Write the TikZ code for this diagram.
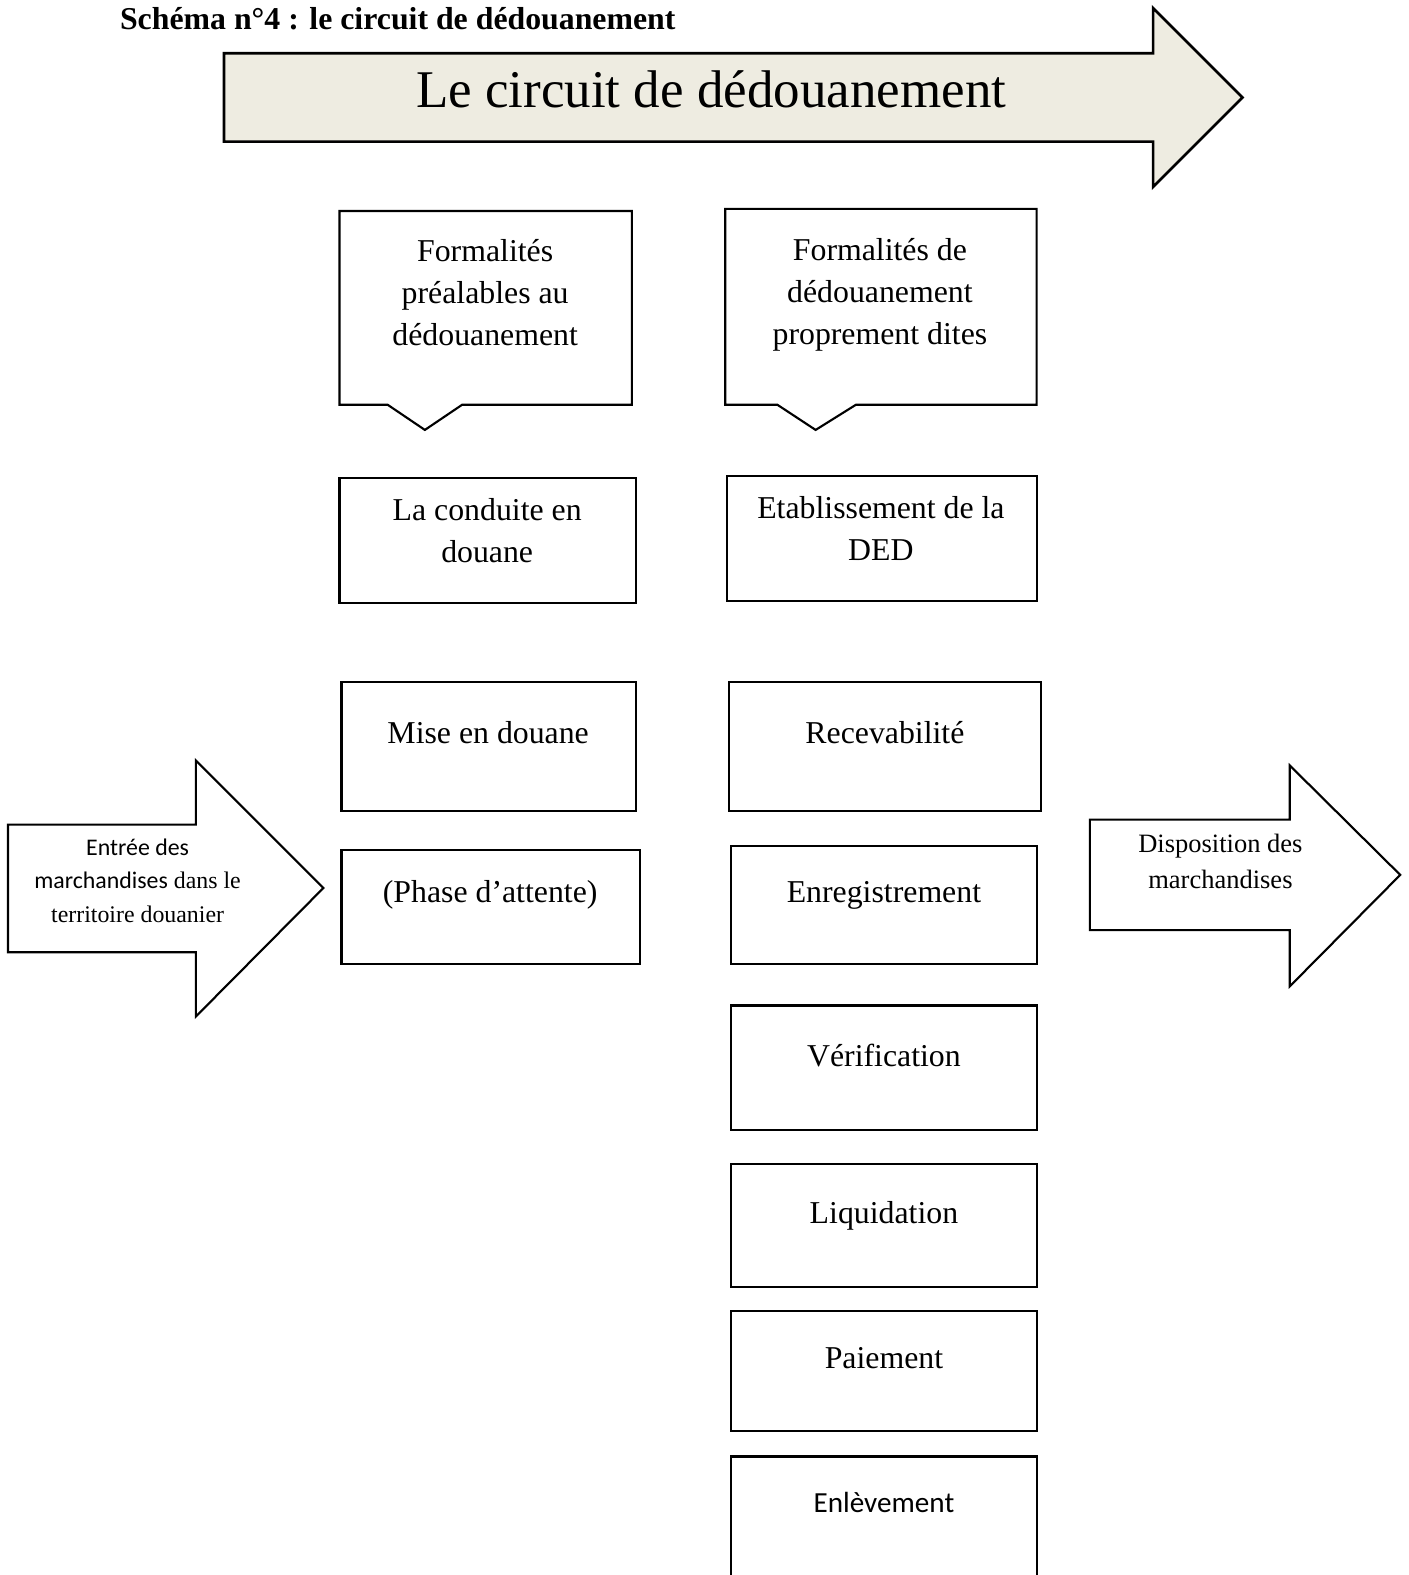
\documentclass[tikz,border=0pt]{standalone}
\usepackage{fontspec}
\setmainfont{Liberation Serif}
\newfontfamily\calibri{Carlito}
\usetikzlibrary{positioning,fit}
\definecolor{fondgris}{HTML}{EEECE1}

\tikzset{
  etape/.style={draw, line width=0.8pt, inner sep=0pt},
  etiq/.style={anchor=north, align=center, inner sep=0pt, font=\fontsize{12}{15.9}\selectfont},
  fleche/.style={draw, line width=0.8pt, line join=miter}
}

\begin{document}
\begin{tikzpicture}[x=0.379pt, y=-0.379pt]
	\clip (0,0) rectangle (1402,1568);
	\fill[white] (0,0) rectangle (1402,1568);
	% titre
	\node[anchor=base west, inner sep=0pt, font=\bfseries\fontsize{12}{14}\selectfont] (titre) at (119,29) {Schéma n°4 : le circuit de dédouanement};
	% grande fleche
	\draw[fleche, fill=fondgris, line width=1pt] (223,53) -- (1148,53) -- (1148,8) -- (1237,97) -- (1148,186) -- (1148,141) -- (223,141) -- cycle;
	\node[anchor=base, inner sep=0pt, font=\fontsize{20}{24}\selectfont] (circuit) at (708,107) {Le circuit de dédouanement};
	% colonne de gauche
	\draw[fleche] (338,210) -- (629,210) -- (629,403) -- (460,403) -- (423,428) -- (386,403) -- (338,403) -- cycle;
	\node[etiq] (prealT) at (483,238) {Formalités\\préalables au\\dédouanement};
	\node[etape, fit={(338,476) (633,600)}] (conduite) {};
	\node[etiq] (conduiteT) at (485,496) {La conduite en\\douane};
	\node[etape, fit={(340,679) (633,807)}] (mise) {};
	\node[etiq] (miseT) at (486,718) {Mise en douane};
	\node[etape, fit={(340,846) (637,960)}] (attente) {};
	\node[etiq] (attenteT) at (488,876) {(Phase d’attente)};
	% colonne de droite
	\draw[fleche] (722,208) -- (1032,208) -- (1032,403) -- (852,403) -- (812,428) -- (774,403) -- (722,403) -- cycle;
	\node[etiq] (propresT) at (876,237) {Formalités de\\dédouanement\\proprement dites};
	\node[etape, fit={(724,474) (1032,598)}] (ded) {};
	\node[etiq] (dedT) at (877,494) {Etablissement de la\\DED};
	\node[etape, fit={(726,679) (1036,807)}] (recev) {};
	\node[etiq] (recevT) at (881,718) {Recevabilité};
	\node[etape, fit={(728,842) (1032,960)}] (enreg) {};
	\node[etiq] (enregT) at (880,877) {Enregistrement};
	\node[etape, fit={(728,1001) (1032,1125)}] (verif) {};
	\node[etiq] (verifT) at (880,1039) {Vérification};
	\node[etape, fit={(728,1159) (1032,1281)}] (liquid) {};
	\node[etiq] (liquidT) at (880,1196) {Liquidation};
	\node[etape, fit={(728,1305) (1032,1425)}] (paie) {};
	\node[etiq] (paieT) at (880,1341) {Paiement};
	\node[etape, fit={(728,1450) (1032,1620)}] (enlev) {};
	\node[etiq, font=\calibri\fontsize{11}{13}\selectfont] (enlevT) at (880,1485) {Enlèvement};
	% fleche d'entree
	\draw[fleche] (8,821) -- (195,821) -- (195,757) -- (322,884) -- (195,1012) -- (195,948) -- (8,948) -- cycle;
	\node[etiq, font=\fontsize{9}{12.5}\selectfont] (entree) at (137,835) {{\calibri Entrée des}\\{\calibri marchandises} dans le\\territoire douanier};
	% fleche de sortie
	\draw[fleche] (1085,816) -- (1284,816) -- (1284,762) -- (1394,871) -- (1284,982) -- (1284,926) -- (1085,926) -- cycle;
	\node[etiq, font=\fontsize{10}{13.6}\selectfont] (sortie) at (1215,830) {Disposition des\\marchandises};
\end{tikzpicture}
\end{document}
